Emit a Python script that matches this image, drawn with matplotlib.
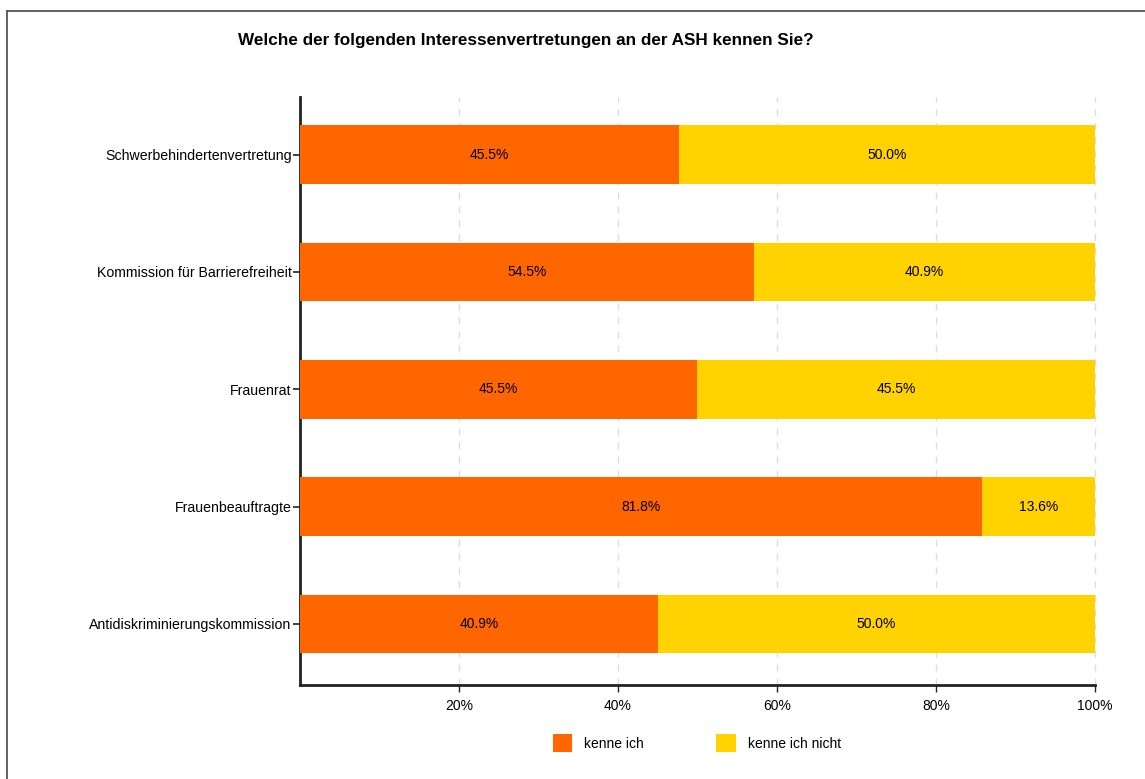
import matplotlib
matplotlib.use("Agg")
import matplotlib.pyplot as plt
import numpy as np
from matplotlib.patches import Patch
from matplotlib.lines import Line2D

plt.rcParams['font.family'] = ['Liberation Sans', 'DejaVu Sans']

categories = ["Schwerbehindertenvertretung", "Kommission für Barrierefreiheit",
              "Frauenrat", "Frauenbeauftragte", "Antidiskriminierungskommission"]
kenne_ich = [45.5, 54.5, 45.5, 81.8, 40.9]
kenne_nicht = [50.0, 40.9, 45.5, 13.6, 50.0]
series_names = ["kenne ich", "kenne ich nicht"]
colors = ["#FF6600", "#FFD200"]
x_ticks = [20, 40, 60, 80, 100]
x_ticklabels = ["20%", "40%", "60%", "80%", "100%"]
title = "Welche der folgenden Interessenvertretungen an der ASH kennen Sie?"

W, H = 1145, 779
fig = plt.figure(figsize=(W / 100, H / 100), dpi=100)
ax = fig.add_axes([300 / W, 1 - 685 / H, (1095 - 300) / W, (685 - 97) / H])

a = np.array(kenne_ich)
b = np.array(kenne_nicht)
tot = a + b
a_n = a / tot * 100
b_n = b / tot * 100
y = np.arange(len(categories))

ax.barh(y, a_n, height=0.5, color=colors[0], zorder=3)
ax.barh(y, b_n, left=a_n, height=0.5, color=colors[1], zorder=3)
for i in range(len(categories)):
    ax.text(a_n[i] / 2, y[i], f"{kenne_ich[i]:.1f}%", ha='center', va='center', fontsize=10, zorder=4)
    ax.text(a_n[i] + b_n[i] / 2, y[i], f"{kenne_nicht[i]:.1f}%", ha='center', va='center', fontsize=10, zorder=4)

ax.set_xlim(0, 100)
ax.set_ylim(4.52, -0.49)
ax.set_yticks(y)
ax.set_yticklabels(categories, fontsize=10.2)
ax.set_xticks(x_ticks)
ax.set_xticklabels(x_ticklabels, fontsize=10)
ax.tick_params(axis='y', length=5, width=1.2, color='#222222', pad=1)
ax.tick_params(axis='x', length=5, width=1, color='#222222', pad=5)
for xv in x_ticks:
    ax.axvline(xv, color='#DDDDDD', linestyle=(0, (5, 5)), linewidth=1, zorder=1, clip_on=False)
for s in ['top', 'right']:
    ax.spines[s].set_visible(False)
for s in ['left', 'bottom']:
    ax.spines[s].set_linewidth(2)
    ax.spines[s].set_color('#222222')

fig.text(238 / W, 1 - 41 / H, title, fontsize=12.3, fontweight='bold', ha='left', va='center')

handles = [Patch(facecolor=c, edgecolor='none') for c in colors]
fig.legend(handles, series_names, loc='center', bbox_to_anchor=(697 / W, 1 - 743 / H),
           ncol=2, frameon=False, fontsize=10, handlelength=1.4, handleheight=1.6,
           columnspacing=5.2, handletextpad=0.9)

# outer frame lines (left and top)
fig.add_artist(Line2D([7 / W, 7 / W], [0, 1 - 11 / H], transform=fig.transFigure, color='#555555', lw=1.3))
fig.add_artist(Line2D([7 / W, 1], [1 - 11 / H, 1 - 11 / H], transform=fig.transFigure, color='#555555', lw=1.3))

fig.savefig("out.png", dpi=100)
